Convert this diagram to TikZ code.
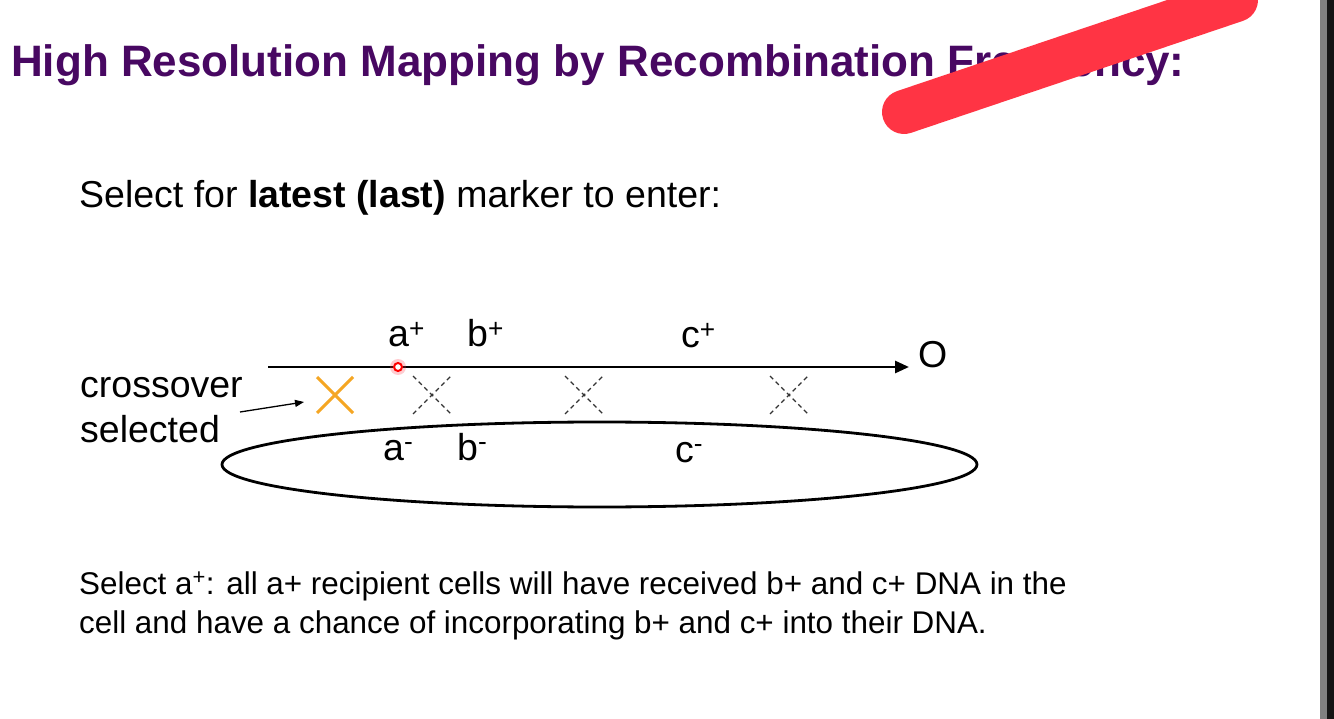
\documentclass[tikz,border=0pt]{standalone}
\usepackage{fontspec}
\setmainfont{Liberation Sans}
\usetikzlibrary{arrows.meta,shapes.geometric}
\definecolor{titlepurple}{RGB}{72,8,98}
\definecolor{hlred}{RGB}{255,52,68}
\definecolor{xorange}{RGB}{245,166,35}
\tikzset{
  txt/.style={inner sep=0pt, anchor=base west},
  lbl/.style={txt, font=\fontsize{37.5}{44}\selectfont},
  body/.style={txt, font=\fontsize{31.4}{39}\selectfont},
  dashx/.style={draw=black!80, line width=1.3pt, dash pattern=on 4.5pt off 3.5pt},
}
\begin{document}
\begin{tikzpicture}[x=1pt,y=-1pt]
\useasboundingbox (0,0) rectangle (1334,719);
\fill[white] (0,0) rectangle (1334,719);
% right edge bar
\fill[black!50] (1320,0) rectangle (1327,719);
\fill[black!92] (1327,0) rectangle (1334,719);
% title
\node[txt, font=\fontsize{44}{53}\selectfont\bfseries, text=titlepurple] (title) at (11,77) {High Resolution Mapping by Recombination Frequency:};
% red highlighter stroke
\coordinate (hl1) at (904,112);
\coordinate (hl2) at (1236,0);
\draw[hlred, line width=44pt, line cap=round] (hl1) -- (hl2);
% subtitle
\node[lbl] (sub) at (79,208) {Select for \textbf{latest (last)} marker to enter:};
% donor line
\coordinate (ds) at (268,367);
\coordinate (de) at (909,367);
\draw[line width=2.8pt, -{Triangle[length=14pt,width=12pt]}] (ds) -- (de);
\node[lbl] (O) at (918,367) {O};
\node[lbl] (ap) at (388,347) {a\textsuperscript{+}};
\node[lbl] (bp) at (467,347) {b\textsuperscript{+}};
\node[lbl] (cp) at (681,348) {c\textsuperscript{+}};
% red origin marker
\fill[hlred, opacity=0.25] (398,367) circle (8);
\node[circle, draw=red, fill=white, line width=2pt, minimum size=8pt, inner sep=0pt] (mark) at (398,367) {};
% recipient chromosome
\node[ellipse, draw, line width=2.8pt, minimum width=755pt, minimum height=85pt, inner sep=0pt] (chrom) at (599.5,464.5) {};
\node[lbl] (am) at (383,460) {a\textsuperscript{-}};
\node[lbl] (bm) at (457,460) {b\textsuperscript{-}};
\node[lbl] (cm) at (675,462) {c\textsuperscript{-}};
% crossovers
\draw[xorange, line width=3pt] (317,377) -- (353,413) (317,413) -- (353,377);
\draw[dashx] (413,376) -- (451,414) (413,414) -- (451,376);
\draw[dashx] (565,376) -- (603,414) (565,414) -- (603,376);
\draw[dashx] (770,376) -- (808,414) (770,414) -- (808,376);
% crossover label
\node[lbl] (cross) at (80,398) {crossover};
\node[lbl] (sel) at (80,442) {selected};
\coordinate (ca1) at (240,412);
\coordinate (ca2) at (304,402);
\draw[line width=1.3pt, -{Triangle[length=9pt,width=7pt]}] (ca1) -- (ca2);
% bottom text
\node[body] (l1) at (79,594) {Select a\textsuperscript{+}: all a+ recipient cells will have received b+ and c+ DNA in the};
\node[body] (l2) at (79,633) {cell and have a chance of incorporating b+ and c+ into their DNA.};
\end{tikzpicture}
\end{document}
